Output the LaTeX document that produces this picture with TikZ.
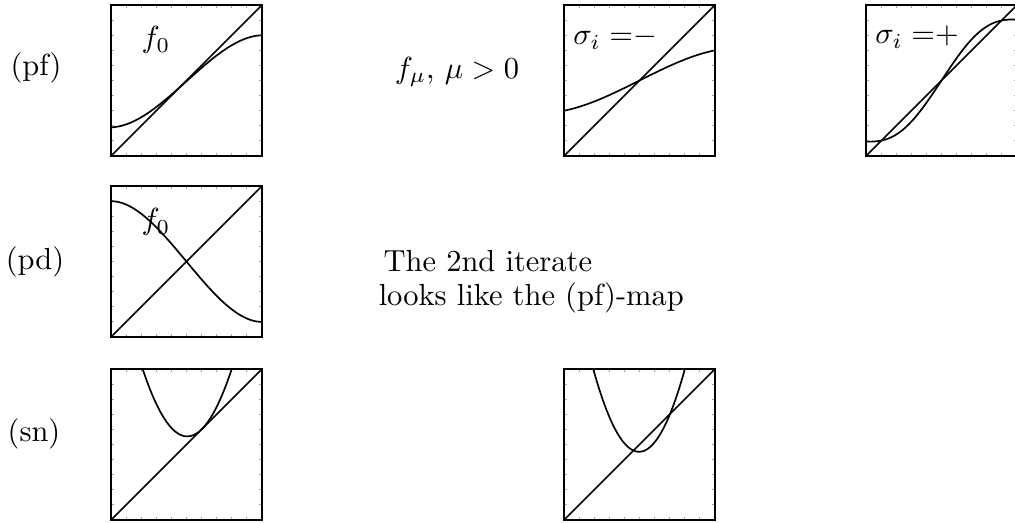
\documentclass[tikz,border=0pt]{standalone}
\usepackage{amsmath,amssymb}
\usepackage{xcolor}
\usepackage{tikz}
\usetikzlibrary{positioning,calc}

\begin{document}
\begin{tikzpicture}[x=0.328pt,y=-0.328pt,font=\normalsize,
  panel/.style 2 args={shift={(#1,#2)},x=49.5pt,y=49.5pt},
  box/.style={draw,line width=0.5pt},
  tick/.style={draw=black!35,line width=0.3pt},
  map/.style={draw,line width=0.55pt,line join=round}]
  \useasboundingbox (0,0) rectangle (1015,523);
  % frames with ticks and the diagonal
  \foreach \px/\py in {111/156,564/156,866/156,111/337,111/520,564/520}{
    \begin{scope}[panel={\px}{\py}]
      \foreach \t in {0.1,0.2,...,0.95}{
        \draw[tick] (\t,0) -- +(0,0.02); \draw[tick] (\t,1) -- +(0,-0.02);
        \draw[tick] (0,\t) -- +(0.02,0); \draw[tick] (1,\t) -- +(-0.02,0);
      }
      \draw[box] (0,0) rectangle (1,1);
      \draw[map] (0,0) -- (1,1);
    \end{scope}
  }
  % (pf), f_0
  \begin{scope}[panel={111}{156}]
    \draw[map] plot[domain=0:1,samples=60] (\x,{0.495+0.9*(\x-0.5)-1.16*(\x-0.5)*(\x-0.5)*(\x-0.5)});
  \end{scope}
  % sigma_i = -
  \begin{scope}[panel={564}{156}]
    \draw[map] plot[domain=0:1,samples=60] (\x,{0.5+0.5*(\x-0.5)-0.4*(\x-0.5)*(\x-0.5)*(\x-0.5)});
  \end{scope}
  % sigma_i = +
  \begin{scope}[panel={866}{156}]
    \draw[map] plot[domain=0:1,samples=80] (\x,{0.095+0.81*\x*\x*\x*(10-15*\x+6*\x*\x)});
  \end{scope}
  % (pd)
  \begin{scope}[panel={111}{337}]
    \draw[map] plot[domain=0:1,samples=60] (\x,{0.5-1.2*(\x-0.5)+1.6*(\x-0.5)*(\x-0.5)*(\x-0.5)});
  \end{scope}
  % (sn)
  \begin{scope}[panel={111}{520}]
    \draw[map] plot[domain=0.21:0.8,samples=60] (\x,{5.13*(\x-0.505)*(\x-0.505)+0.554});
  \end{scope}
  \begin{scope}[panel={564}{520}]
    \draw[map] plot[domain=0.194:0.801,samples=60] (\x,{5.95*(\x-0.4975)*(\x-0.4975)+0.452});
  \end{scope}
  % labels
  \node (pf) at (36,68) {(pf)};
  \node (pd) at (35,262) {(pd)};
  \node (sn) at (34,434) {(sn)};
  \node (fza) at (156,40) {$f_0$};
  \node (fzb) at (156,222) {$f_0$};
  \node (fmu) at (457,72) {$f_\mu$, $\mu>0$};
  \node (sigm) at (615,38) {$\sigma_i=\mathrel{-}$};
  \node (sigp) at (917,37) {$\sigma_i=\mathrel{+}$};
  \node[align=left,font={\fontsize{10}{11}\selectfont},anchor=west] (iter) at (368,282)
    {\hspace{1.6pt}The 2nd iterate\\looks like the (pf)-map};
\end{tikzpicture}
\end{document}
